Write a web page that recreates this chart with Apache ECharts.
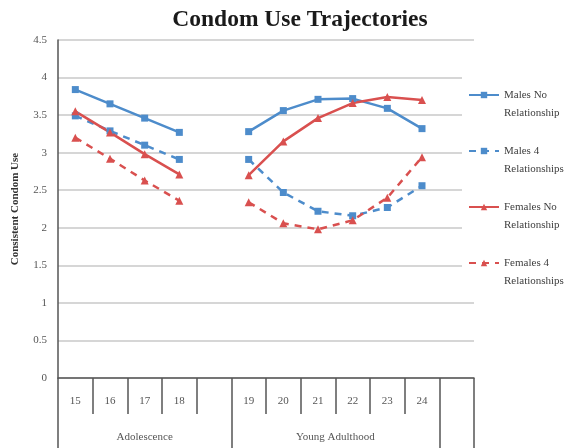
<!DOCTYPE html>
<html>
<head>
<meta charset="utf-8">
<script src="https://cdn.jsdelivr.net/npm/echarts@6/dist/echarts.min.js"></script>
<style>
html,body{margin:0;padding:0;background:#fff;}
#chart{width:575px;height:448px;}
</style>
</head>
<body>
<div id="chart"></div>
<script>
const categories = ['15','16','17','18','','19','20','21','22','23','24',''];
const malesNo    = [3.84,3.65,3.46,3.27,null,3.28,3.56,3.71,3.72,3.59,3.32,null];
const males4     = [3.49,3.29,3.10,2.91,null,2.91,2.47,2.22,2.16,2.27,2.56,null];
const femalesNo  = [3.55,3.27,2.98,2.71,null,2.70,3.15,3.46,3.66,3.74,3.70,null];
const females4   = [3.20,2.92,2.63,2.36,null,2.34,2.06,1.98,2.10,2.40,2.94,null];
const groupNames = ['Adolescence','Young Adulthood',''];
const groupSpans = [5,6,1];
const seriesNames = ['Males No Relationship','Males 4 Relationships','Females No Relationship','Females 4 Relationships'];
const legendLabels = [['Males No','Relationship'],['Males 4','Relationships'],['Females No','Relationship'],['Females 4','Relationships']];
const yTitle = 'Consistent Condom Use';
const chartTitle = 'Condom Use Trajectories';

const BLUE = '#4d8ccb', RED = '#d9504f', AXIS = '#555555', TXT = '#555555';
const SERIF = "'Liberation Serif','DejaVu Serif',serif";

// group boundaries and centers in category units
const boundaries = [0];
groupSpans.forEach(s => boundaries.push(boundaries[boundaries.length-1] + s));
const centers = groupSpans.map((s,i) => boundaries[i] + s/2);

function mkSeries(name, data, color, symbol, dashed, size){
  return {
    name, type:'line', data, connectNulls:false, symbol, symbolSize:size,
    xAxisIndex:0,
    itemStyle:{color},
    lineStyle:{color, width:2.5, type: dashed ? [7,6] : 'solid'},
    emphasis:{disabled:true}
  };
}

const chart = echarts.init(document.getElementById('chart'), null, {renderer:'canvas'});
chart.setOption({
  animation:false,
  backgroundColor:'#ffffff',
  title:{
    text:chartTitle, left:295, top:3, textAlign:'center',
    textStyle:{fontFamily:SERIF, fontWeight:'bold', fontSize:23.5, color:'#1a1a1a'}
  },
  legend:{
    orient:'vertical', left:462, top:60,
    padding:[8,6,6,6],
    backgroundColor:'#ffffff',
    itemWidth:30, itemHeight:8, itemGap:2,
    data:seriesNames,
    formatter: n => ' \n' + legendLabels[seriesNames.indexOf(n)].join('\n'),
    textStyle:{fontFamily:SERIF, fontSize:11, color:'#404040', lineHeight:18}
  },
  grid:{left:58, right:101, top:40, bottom:70, containLabel:false, outerBoundsMode:'none'},
  xAxis:[
    {
      type:'category', data:categories, boundaryGap:true, position:'bottom',
      axisLine:{show:true, lineStyle:{color:AXIS, width:1.5}},
      axisTick:{show:true, interval:0, length:36, lineStyle:{color:AXIS, width:1.5}},
      axisLabel:{interval:0, margin:18, fontFamily:SERIF, fontSize:11, color:TXT},
      splitLine:{show:false}
    },
    {
      type:'value', min:0, max:boundaries[boundaries.length-1], position:'bottom',
      axisLine:{show:false},
      splitLine:{show:false},
      axisTick:{show:true, customValues:boundaries, length:70, lineStyle:{color:AXIS, width:1.5}},
      axisLabel:{
        show:true, customValues:centers, margin:54,
        fontFamily:SERIF, fontSize:11, color:TXT,
        formatter: v => {
          let best = 0;
          centers.forEach((c,i)=>{ if (Math.abs(c-v) < Math.abs(centers[best]-v)) best = i; });
          return groupNames[best];
        }
      }
    }
  ],
  yAxis:{
    type:'value', min:0, max:4.5, interval:0.5,
    name:yTitle, nameLocation:'middle', nameGap:37, nameRotate:90,
    nameTextStyle:{fontFamily:SERIF, fontWeight:'bold', fontSize:11, color:'#333333'},
    axisLine:{show:true, lineStyle:{color:AXIS, width:1.5}},
    axisTick:{show:false},
    axisLabel:{margin:11, fontFamily:SERIF, fontSize:11, color:TXT},
    splitLine:{show:true, lineStyle:{color:'#c8c8c8', width:1.5}}
  },
  series:[
    mkSeries(seriesNames[0], malesNo, BLUE, 'rect', false, 7),
    mkSeries(seriesNames[1], males4, BLUE, 'rect', true, 7),
    mkSeries(seriesNames[2], femalesNo, RED, 'triangle', false, 8),
    mkSeries(seriesNames[3], females4, RED, 'triangle', true, 8)
  ]
});
</script>
</body>
</html>
